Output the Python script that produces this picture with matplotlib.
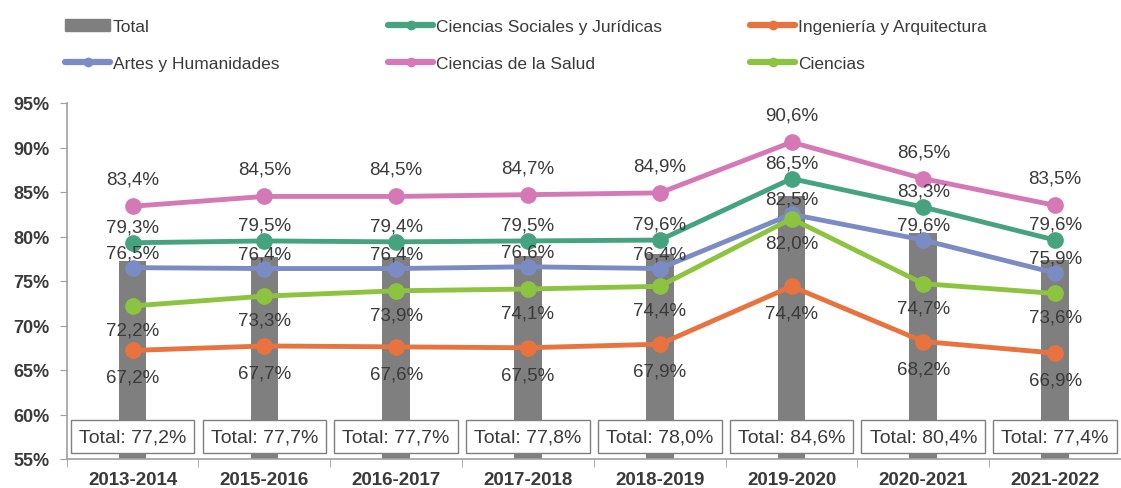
import matplotlib.pyplot as plt
import numpy as np
from matplotlib.lines import Line2D
from matplotlib.patches import Patch

plt.rcParams['font.family'] = ['Liberation Sans', 'DejaVu Sans']

cursos = ['2013-2014', '2015-2016', '2016-2017', '2017-2018',
          '2018-2019', '2019-2020', '2020-2021', '2021-2022']
total = [77.2, 77.7, 77.7, 77.8, 78.0, 84.6, 80.4, 77.4]
salud = [83.4, 84.5, 84.5, 84.7, 84.9, 90.6, 86.5, 83.5]
sociales = [79.3, 79.5, 79.4, 79.5, 79.6, 86.5, 83.3, 79.6]
artes = [76.5, 76.4, 76.4, 76.6, 76.4, 82.5, 79.6, 75.9]
ciencias = [72.2, 73.3, 73.9, 74.1, 74.4, 82.0, 74.7, 73.6]
ingenieria = [67.2, 67.7, 67.6, 67.5, 67.9, 74.4, 68.2, 66.9]

# colores
c_total = '#7f7f7f'
c_soc = '#45a47f'
c_ing = '#e8733f'
c_art = '#7b8cc4'
c_sal = '#d579b6'
c_cie = '#8dc43f'
c_txt = '#3a3a3a'

W, H = 1121, 489
fig = plt.figure(figsize=(W / 100, H / 100), dpi=100)
ax = fig.add_axes([66.7 / W, 29 / H, (W - 66.7) / W, (460 - 104) / H])

x = np.arange(len(cursos))
ax.bar(x, total, width=0.21, color=c_total, zorder=1)

# (serie, color, etiqueta, desplazamiento en px: + arriba, - abajo)
series = [
    (sociales, c_soc, 'Ciencias Sociales y Jurídicas', 16),
    (ingenieria, c_ing, 'Ingeniería y Arquitectura', -27),
    (artes, c_art, 'Artes y Humanidades', 15),
    (salud, c_sal, 'Ciencias de la Salud', 27),
    (ciencias, c_cie, 'Ciencias', -24),
]

def fmt(v):
    return f'{v:.1f}'.replace('.', ',') + '%'

for vals, col, lab, off in series:
    ax.plot(x, vals, color=col, lw=3.5, marker='o', ms=11, zorder=3)

for vals, col, lab, off in series:
    for xi, v in zip(x, vals):
        ax.annotate(fmt(v), (xi, v), xytext=(0, off * 0.72), textcoords='offset points',
                    ha='center', va='center', fontsize=13.5, color=c_txt, zorder=5)

for xi, v in zip(x, total):
    ax.text(xi, 57.5, 'Total: ' + fmt(v), ha='center', va='center', fontsize=14,
            color=c_txt, zorder=6,
            bbox=dict(boxstyle='square,pad=0.42', fc='white', ec='#7f7f7f', lw=1))

ax.set_xlim(-0.5, (W - 66.7) / 133.5 - 0.5)
ax.set_ylim(55, 95)
ax.set_yticks(range(55, 96, 5))
ax.set_yticklabels([f'{t}%' for t in range(55, 96, 5)], fontsize=13,
                   fontweight='bold', color=c_txt)
ax.set_xticks(x)
ax.set_xticklabels(cursos, fontsize=13.5, fontweight='bold', color=c_txt)
ax.set_xticks(np.arange(-0.5, len(cursos), 1), minor=True)
ax.tick_params(axis='x', which='major', length=0, pad=9)
ax.tick_params(axis='x', which='minor', length=6, color='#a0a0a0')
ax.tick_params(axis='y', length=5, color='#a0a0a0', pad=7.5)
for s in ['top', 'right']:
    ax.spines[s].set_visible(False)
for s in ['left', 'bottom']:
    ax.spines[s].set_color('#a0a0a0')
    ax.spines[s].set_linewidth(1.2)

# leyenda en tres columnas
def h(col):
    return Line2D([], [], color=col, lw=4.5, marker='o', ms=6, solid_capstyle='round')

cols = [
    (65, [Patch(color=c_total), h(c_art)], ['Total', 'Artes y Humanidades']),
    (388, [h(c_soc), h(c_sal)], ['Ciencias Sociales y Jurídicas', 'Ciencias de la Salud']),
    (750, [h(c_ing), h(c_cie)], ['Ingeniería y Arquitectura', 'Ciencias']),
]
for px, hs, ls in cols:
    fig.legend(hs, ls, loc='upper left', bbox_to_anchor=(px / W, 1 - 19.5 / H),
               frameon=False, fontsize=12.5, handlelength=2.6, handletextpad=0.15,
               labelspacing=1.27, borderpad=0, borderaxespad=0, labelcolor=c_txt)

fig.savefig('out.png', dpi=100)
